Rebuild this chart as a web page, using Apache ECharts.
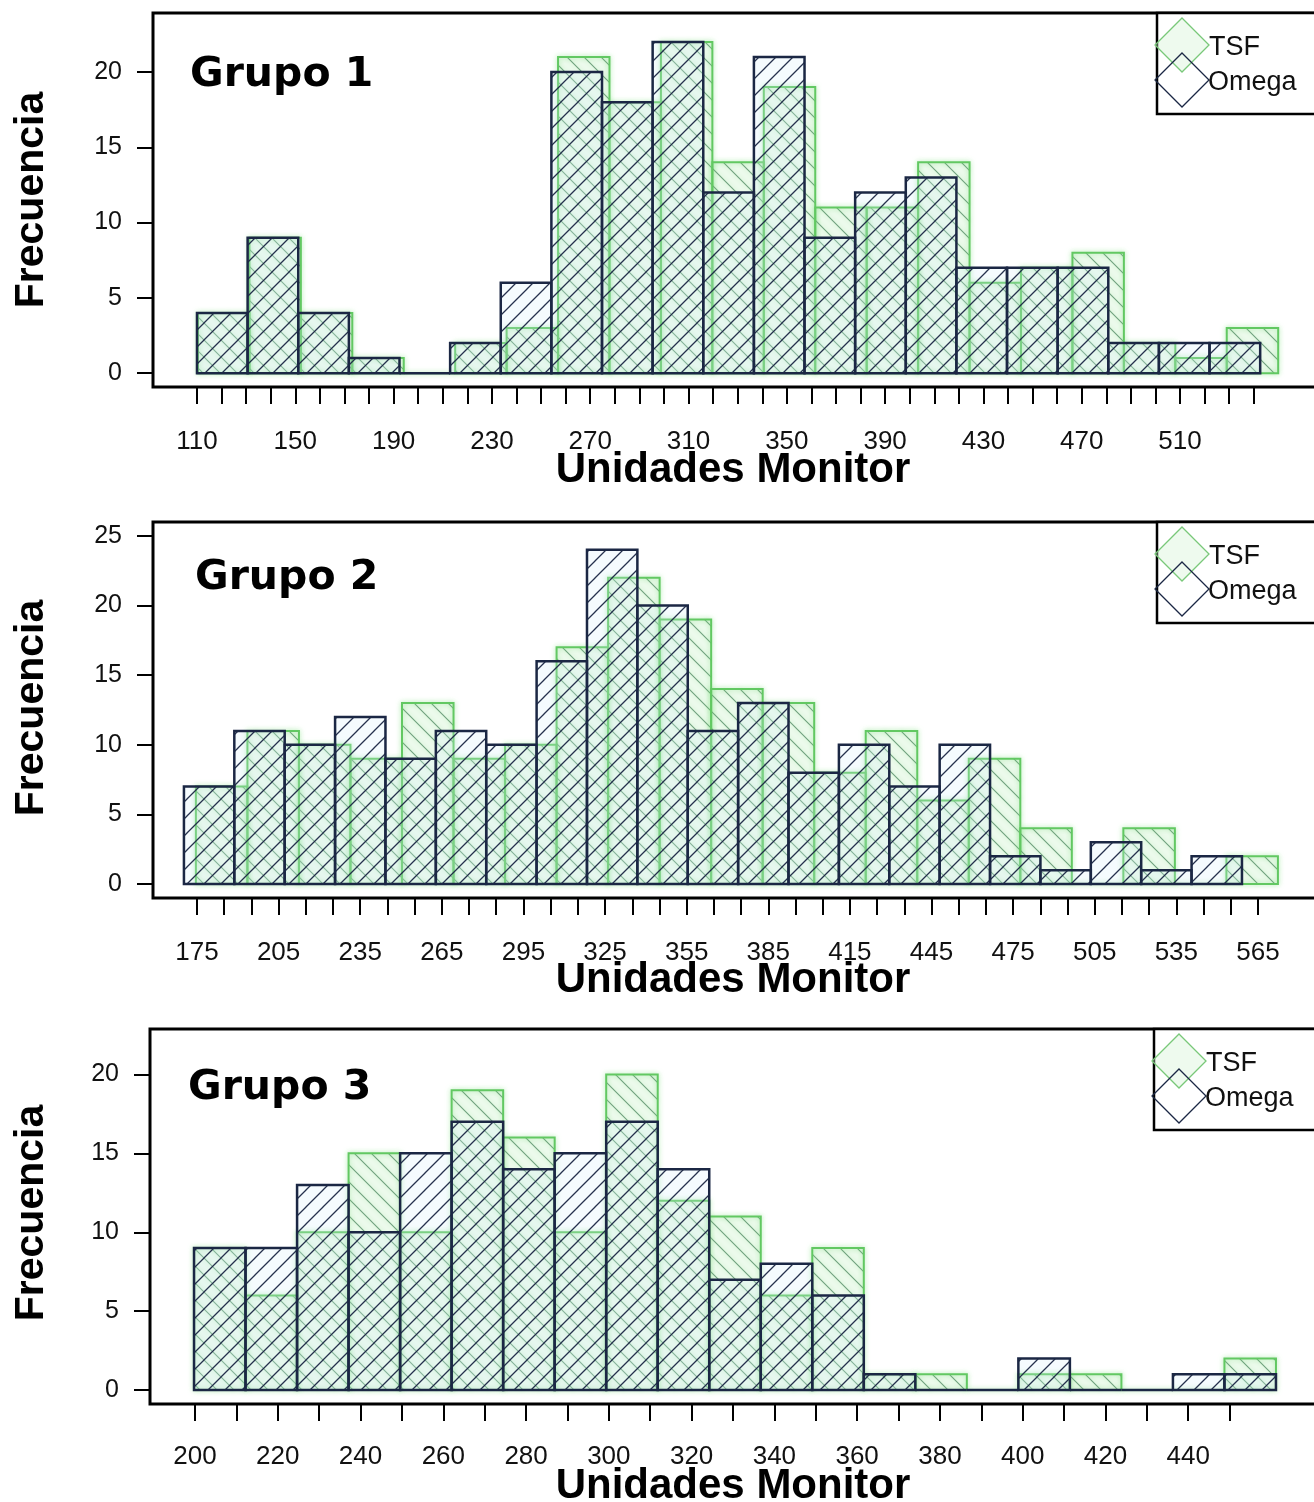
<!DOCTYPE html>
<html><head><meta charset="utf-8">
<script src="https://cdn.jsdelivr.net/npm/echarts@6/dist/echarts.min.js"></script>
<style>html,body{margin:0;padding:0;background:#fff}#c{width:1314px;height:1502px}</style>
</head><body><div id="c"></div>
<script>
// ---------- DATA ----------
// Grupo 1
const g1Omega = [4, 9, 4, 1, 0, 2, 6, 20, 18, 22, 12, 21, 9, 12, 13, 7, 7, 7, 2, 2, 2];
const g1TSF   = [4, 9, 4, 1, 0, 2, 3, 21, 18, 22, 14, 19, 11, 11, 14, 6, 7, 8, 2, 1, 3];
const g1OmegaBinStart = 110,   g1OmegaBinWidth = 20.6;
const g1TSFBinStart   = 110.4, g1TSFBinWidth   = 20.93;
const g1Ticks  = [110,120,130,140,150,160,170,180,190,200,210,220,230,240,250,260,270,280,290,300,310,320,330,340,350,360,370,380,390,400,410,420,430,440,450,460,470,480,490,500,510,520,530,540];
const g1Labels = [110,150,190,230,270,310,350,390,430,470,510];
const g1YTicks = [0,5,10,15,20];
// Grupo 2
const g2Omega = [7, 11, 10, 12, 9, 11, 10, 16, 24, 20, 11, 13, 8, 10, 7, 10, 2, 1, 3, 1, 2];
const g2TSF   = [7, 11, 10, 9, 13, 9, 10, 17, 22, 19, 14, 13, 8, 11, 6, 9, 4, 0, 4, 0, 2];
const g2OmegaBinStart = 170.2, g2OmegaBinWidth = 18.52;
const g2TSFBinStart   = 174.6, g2TSFBinWidth   = 18.94;
const g2Ticks  = [175,185,195,205,215,225,235,245,255,265,275,285,295,305,315,325,335,345,355,365,375,385,395,405,415,425,435,445,455,465,475,485,495,505,515,525,535,545,555,565];
const g2Labels = [175,205,235,265,295,325,355,385,415,445,475,505,535,565];
const g2YTicks = [0,5,10,15,20,25];
// Grupo 3
const g3Omega = [9, 9, 13, 10, 15, 17, 14, 15, 17, 14, 7, 8, 6, 1, 0, 0, 2, 0, 0, 1, 1];
const g3TSF   = [9, 6, 10, 15, 10, 19, 16, 10, 20, 12, 11, 6, 9, 1, 1, 0, 1, 1, 0, 0, 2];
const g3OmegaBinStart = 199.76, g3OmegaBinWidth = 12.45;
const g3TSFBinStart   = 199.76, g3TSFBinWidth   = 12.45;
const g3Ticks  = [200,210,220,230,240,250,260,270,280,290,300,310,320,330,340,350,360,370,380,390,400,410,420,430,440,450];
const g3Labels = [200,220,240,260,280,300,320,340,360,380,400,420,440];
const g3YTicks = [0,5,10,15,20];

const seriesNames = ['TSF', 'Omega'];
const groupTitles = ['Grupo 1', 'Grupo 2', 'Grupo 3'];
const xTitle = 'Unidades Monitor';
const yTitle = 'Frecuencia';

// ---------- STYLE ----------
const NAVY = '#1b2744';
const GREEN = '#62c862';
function hatch(dir, lineColor, bg, size, lw) {
  const c = document.createElement('canvas');
  c.width = size; c.height = size;
  const x = c.getContext('2d');
  x.fillStyle = bg; x.fillRect(0, 0, size, size);
  x.strokeStyle = lineColor; x.lineWidth = lw;
  x.beginPath();
  for (const o of [-size, 0, size]) {
    if (dir === '/') { x.moveTo(o - 1, size + 1); x.lineTo(o + size + 1, -1); }
    else { x.moveTo(o - 1, -1); x.lineTo(o + size + 1, size + 1); }
  }
  x.stroke();
  return { image: c, repeat: 'repeat' };
}
const omegaFill = hatch('/', 'rgba(27,39,68,0.95)', 'rgba(210,238,250,0.22)', 17, 1.3);
const tsfFill = hatch('\\', 'rgba(100,150,115,0.9)', 'rgba(195,240,195,0.13)', 17, 1.1);

function makeSeries(name, idx, start, width, counts, fill, stroke, lw, glow) {
  const data = counts.map((n, i) => [start + i * width, start + (i + 1) * width, n]);
  return {
    type: 'custom', name, xAxisIndex: idx, yAxisIndex: idx, data,
    encode: { x: [0, 1], y: 2 }, silent: true,
    renderItem: (params, api) => {
      const a = api.coord([api.value(0), 0]);
      const b = api.coord([api.value(1), api.value(2)]);
      return {
        type: 'rect',
        shape: { x: a[0], y: b[1], width: b[0] - a[0], height: a[1] - b[1] },
        style: { fill, stroke, lineWidth: lw, shadowBlur: glow ? 5 : 0, shadowColor: glow ? 'rgba(110,220,110,0.6)' : 'transparent' }
      };
    }
  };
}

const panels = [
  { top: 13, height: 374, left: 153, xmin: 92.1, xmax: 564.5, ymin: -0.92, ymax: 23.92,
    ticks: g1Ticks, labels: g1Labels, yt: g1YTicks, margin: 42,
    om: [g1OmegaBinStart, g1OmegaBinWidth, g1Omega], ts: [g1TSFBinStart, g1TSFBinWidth, g1TSF],
    titleX: 190, titleY: 79, xtY: 470, ytY: 200, legLeft: 1157 },
  { top: 522, height: 376, left: 153, xmin: 158.83, xmax: 585.6, ymin: -1, ymax: 26,
    ticks: g2Ticks, labels: g2Labels, yt: g2YTicks, margin: 42,
    om: [g2OmegaBinStart, g2OmegaBinWidth, g2Omega], ts: [g2TSFBinStart, g2TSFBinWidth, g2TSF],
    titleX: 195, titleY: 582, xtY: 980, ytY: 708, legLeft: 1157 },
  { top: 1029, height: 375, left: 150, xmin: 189.12, xmax: 470.4, ymin: -0.88, ymax: 22.88,
    ticks: g3Ticks, labels: g3Labels, yt: g3YTicks, margin: 40,
    om: [g3OmegaBinStart, g3OmegaBinWidth, g3Omega], ts: [g3TSFBinStart, g3TSFBinWidth, g3TSF],
    titleX: 188, titleY: 1092, xtY: 1486, ytY: 1213, legLeft: 1154 }
];

const grid = [], xAxis = [], yAxis = [], series = [], graphic = [];
const tickFont = { fontFamily: 'Liberation Sans, Arial, sans-serif', fontSize: 26, color: '#111' };
panels.forEach((p, i) => {
  grid.push({ left: p.left, top: p.top, right: 0, height: p.height, show: false, containLabel: false });
  xAxis.push({ gridIndex: i, type: 'value', min: p.xmin, max: p.xmax,
    axisLine: { show: false, onZero: false },
    axisTick: { show: true, customValues: p.ticks, length: 17, lineStyle: { color: '#000', width: 2 } },
    axisLabel: Object.assign({ customValues: p.labels, margin: p.margin }, tickFont),
    splitLine: { show: false } });
  yAxis.push({ gridIndex: i, type: 'value', min: p.ymin, max: p.ymax,
    axisLine: { show: false, onZero: false },
    axisTick: { show: true, customValues: p.yt, length: 16, lineStyle: { color: '#000', width: 2 } },
    axisLabel: Object.assign({ customValues: p.yt, margin: 31 }, tickFont, { fontSize: 25 }),
    splitLine: { show: false } });
  series.push(makeSeries(seriesNames[0], i, p.ts[0], p.ts[1], p.ts[2], tsfFill, GREEN, 2, true));
  series.push(makeSeries(seriesNames[1], i, p.om[0], p.om[1], p.om[2], omegaFill, NAVY, 2.5, false));

  // plot frame (extends past the right edge of the page, as in the reference)
  graphic.push({ type: 'rect', z: 90, silent: true, shape: { x: p.left, y: p.top, width: 1400, height: p.height },
    style: { fill: 'none', stroke: '#000', lineWidth: 3 } });
  graphic.push({ type: 'text', left: p.titleX, top: p.titleY - 24, z: 100,
    style: { text: groupTitles[i], font: 'bold 41px "DejaVu Sans", sans-serif', fill: '#000' } });
  graphic.push({ type: 'text', x: 733, y: p.xtY, z: 100,
    style: { text: xTitle, font: 'bold 42px "Liberation Sans", Arial, sans-serif', fill: '#000', align: 'center', verticalAlign: 'middle' } });
  graphic.push({ type: 'text', x: 32, y: p.ytY, rotation: Math.PI / 2, z: 100,
    style: { text: yTitle, font: 'bold 41px "Liberation Sans", Arial, sans-serif', fill: '#000', align: 'center', verticalAlign: 'middle' } });
  // legend
  const L = p.legLeft, T = p.top;
  graphic.push({ type: 'rect', z: 100, shape: { x: L, y: T, width: 260, height: 101 },
    style: { fill: '#fff', stroke: '#000', lineWidth: 2.5 } });
  const cx = L + 25;
  graphic.push({ type: 'polygon', z: 101, shape: { points: [[cx, T + 5], [cx + 27, T + 32], [cx, T + 59], [cx - 27, T + 32]] },
    style: { fill: 'rgba(205,240,205,0.35)', stroke: '#79c879', lineWidth: 1.3 } });
  graphic.push({ type: 'polygon', z: 102, shape: { points: [[cx, T + 40], [cx + 27, T + 67], [cx, T + 94], [cx - 27, T + 67]] },
    style: { fill: 'none', stroke: NAVY, lineWidth: 1.3 } });
  graphic.push({ type: 'text', z: 103, x: L + 52, y: T + 35,
    style: { text: seriesNames[0], font: '27px "Liberation Sans", Arial, sans-serif', fill: '#111', verticalAlign: 'middle' } });
  graphic.push({ type: 'text', z: 103, x: L + 51, y: T + 70,
    style: { text: seriesNames[1], font: '27px "Liberation Sans", Arial, sans-serif', fill: '#111', verticalAlign: 'middle' } });
});

const chart = echarts.init(document.getElementById('c'), null, { renderer: 'canvas' });
chart.setOption({ animation: false, backgroundColor: '#fff', grid, xAxis, yAxis, series, graphic });
</script></body></html>
